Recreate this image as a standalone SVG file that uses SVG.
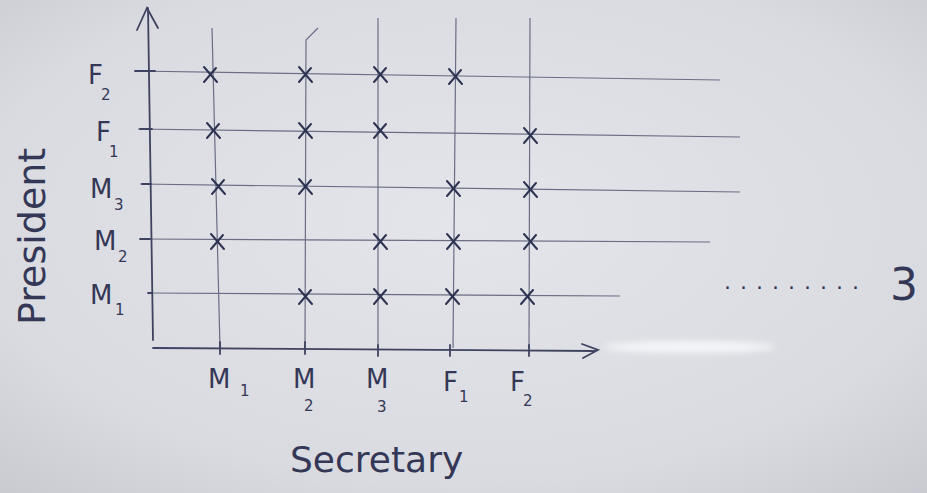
<svg xmlns="http://www.w3.org/2000/svg" width="927" height="493" viewBox="0 0 927 493">
<defs>
<radialGradient id="bg" cx="0.5" cy="0.45" r="0.75">
<stop offset="0" stop-color="#e4e5ea"/>
<stop offset="0.7" stop-color="#dadbe1"/>
<stop offset="1" stop-color="#c9cad1"/>
</radialGradient>
<filter id="blur" x="-20%" y="-100%" width="140%" height="300%"><feGaussianBlur stdDeviation="3"/></filter>
<path id="x" d="M-6,-8 L7,7 M6,-7 L-6,7"/>
</defs>
<style>
.ax{stroke:#3f4260;stroke-width:1.8;fill:none;stroke-linecap:round}
.gl{stroke:#6a6d85;stroke-width:1.2;fill:none}
.cr{stroke:#2f3352;stroke-width:2;fill:none;stroke-linecap:round}
.lb{font-family:"DejaVu Sans","Liberation Sans",sans-serif;fill:#343856;font-size:26px}
.sb{font-family:"DejaVu Sans","Liberation Sans",sans-serif;fill:#343856;font-size:15px}
</style>
<rect width="927" height="493" fill="url(#bg)"/>
<ellipse cx="690" cy="347" rx="85" ry="6" fill="#f4f5f8" filter="url(#blur)"/>
<g id="grid">
<line class="gl" x1="135" y1="71" x2="720" y2="80"/>
<line class="gl" x1="138" y1="129" x2="740" y2="137"/>
<line class="gl" x1="140" y1="184" x2="740" y2="192"/>
<line class="gl" x1="140" y1="239" x2="710" y2="242"/>
<line class="gl" x1="148" y1="293" x2="620" y2="296"/>
<line class="gl" x1="212" y1="28" x2="220" y2="348"/>
<path class="gl" d="M318,28 L306,40 L305,348"/>
<line class="gl" x1="378" y1="18" x2="378" y2="348"/>
<line class="gl" x1="456" y1="18" x2="453" y2="348"/>
<line class="gl" x1="530" y1="18" x2="529" y2="348"/>
</g>
<g id="axes">
<line class="ax" x1="148" y1="8" x2="153" y2="340"/>
<path class="ax" d="M137,30 L147,8 L158,28"/>
<line class="ax" x1="153" y1="348" x2="595" y2="351"/>
<path class="ax" d="M582,344 L598,350 L583,358"/>
<path class="ax" d="M135,71 L155,71 M140,129 L152,129 M142,184 L151,184 M140,239 L150,239 M148,293 L152,293"/>
<path class="ax" d="M220,342 L220,354 M305,342 L305,354 M378,345 L378,356 M450,345 L450,356 M529,345 L529,356"/>
</g>
<g id="marks" class="cr">
<use href="#x" x="210" y="75"/><use href="#x" x="305" y="75"/><use href="#x" x="380" y="75"/><use href="#x" x="455" y="77"/>
<use href="#x" x="213" y="131"/><use href="#x" x="305" y="131"/><use href="#x" x="380" y="131"/><use href="#x" x="530" y="136"/>
<use href="#x" x="218" y="187"/><use href="#x" x="305" y="187"/><use href="#x" x="453" y="189"/><use href="#x" x="530" y="190"/>
<use href="#x" x="217" y="242"/><use href="#x" x="380" y="242"/><use href="#x" x="453" y="242"/><use href="#x" x="530" y="242"/>
<use href="#x" x="305" y="297"/><use href="#x" x="380" y="297"/><use href="#x" x="452" y="297"/><use href="#x" x="527" y="297"/>
</g>
<g id="president-labels">
<text class="lb" x="88" y="84">F</text><text class="sb" x="101" y="100">2</text>
<text class="lb" x="96" y="141">F</text><text class="sb" x="109" y="157">1</text>
<text class="lb" x="90" y="198">M</text><text class="sb" x="114" y="210">3</text>
<text class="lb" x="94" y="250">M</text><text class="sb" x="118" y="262">2</text>
<text class="lb" x="90" y="304">M</text><text class="sb" x="115" y="315">1</text>
</g>
<g id="secretary-labels">
<text class="lb" x="208" y="388">M</text><text class="sb" x="240" y="396">1</text>
<text class="lb" x="293" y="388">M</text><text class="sb" x="304" y="411">2</text>
<text class="lb" x="366" y="388">M</text><text class="sb" x="377" y="412">3</text>
<text class="lb" x="443" y="391">F</text><text class="sb" x="459" y="402">1</text>
<text class="lb" x="510" y="391">F</text><text class="sb" x="523" y="406">2</text>
</g>
<text class="lb" x="290" y="472" style="font-size:36px">Secretary</text>
<text class="lb" transform="translate(45,325) rotate(-90)" style="font-size:38px">President</text>
<text class="lb" x="724" y="289" style="font-size:22px;letter-spacing:9px">.........</text>
<text class="lb" x="890" y="300" style="font-size:44px">3</text>
</svg>
